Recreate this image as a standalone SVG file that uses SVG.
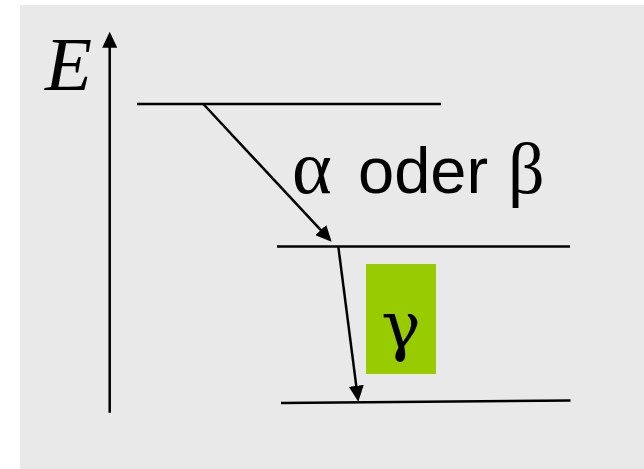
<svg xmlns="http://www.w3.org/2000/svg" width="644" height="469" viewBox="0 0 644 469">
<defs>
<style>
.ln{stroke:#000;stroke-width:2.5;fill:none}
.ar{stroke:#000;stroke-width:2.5;fill:none;marker-end:url(#ah)}
.gr{font-family:"Liberation Serif","Times New Roman",serif;fill:#000}
.gr2{font-family:"DejaVu Serif","Liberation Serif",serif;fill:#000}
.it{font-family:"Liberation Serif","Times New Roman",serif;font-style:italic;fill:#000}
.sans{font-family:"Liberation Sans",Arial,sans-serif;fill:#000}
</style>
<marker id="ah" viewBox="0 0 16 15" markerWidth="16" markerHeight="15" refX="8" refY="7.5" orient="auto" markerUnits="userSpaceOnUse">
<path d="M0,0 L16,7.5 L0,15 z" fill="#000"/>
</marker>
</defs>
<rect x="0" y="0" width="644" height="469" fill="#fff"/>
<rect x="20" y="5" width="624" height="464" fill="#e9e9e9"/>
<g id="axis">
<line class="ar" x1="109.7" y1="412.7" x2="109.7" y2="39.7"/>
<text class="it" x="45" y="90" font-size="77">E</text>
</g>
<g id="level-top"><line class="ln" x1="137" y1="104" x2="441" y2="104"/></g>
<g id="level-middle"><line class="ln" x1="277" y1="246.5" x2="570" y2="246.5"/></g>
<g id="level-bottom"><line class="ln" x1="281" y1="403" x2="570.5" y2="400.5"/></g>
<g id="label-ab">
<text class="gr" x="292" y="193" font-size="76">α</text>
<text class="sans" x="358" y="193" font-size="65">oder</text>
<text class="gr" x="508" y="193" font-size="72">β</text>
</g>
<g id="label-gamma">
<rect x="366" y="264" width="70" height="110" fill="#99cc00"/>
<text class="gr2" x="401" y="348" font-size="66" text-anchor="middle">γ</text>
</g>
<g id="connectors">
<line class="ar" x1="203.3" y1="104" x2="326.2" y2="235.9"/>
<line class="ar" x1="338.3" y1="246.5" x2="357.3" y2="393.8"/>
</g>
</svg>
